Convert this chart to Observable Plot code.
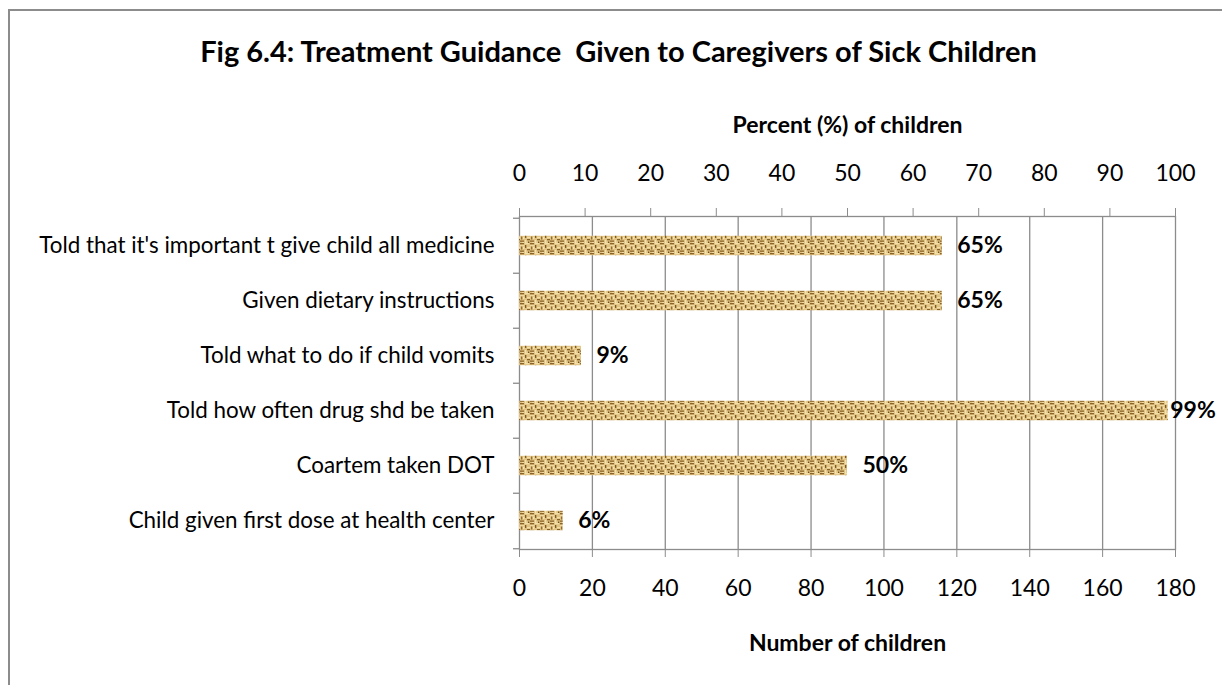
<!DOCTYPE html>
<html>
<head>
<meta charset="utf-8">
<script src="https://cdn.jsdelivr.net/npm/d3@7"></script>
<script src="https://cdn.jsdelivr.net/npm/@observablehq/plot@0.6"></script>
<style>
  html, body { margin: 0; padding: 0; background: #fff; }
  #chart { position: relative; width: 1222px; height: 685px; overflow: hidden; }
  #border { position: absolute; left: 8px; top: 9px; width: 1230px; height: 700px; border: 2px solid #8c8c8c; box-sizing: border-box; pointer-events: none; }
  svg { font-family: Lato, "Open Sans", sans-serif; }
</style>
</head>
<body>
<div id="chart"><div id="border"></div></div>
<script>
const title = "Fig 6.4: Treatment Guidance  Given to Caregivers of Sick Children";
const topAxisTitle = "Percent (%) of children";
const bottomAxisTitle = "Number of children";
const categories = [
  "Told that it's important t give child all medicine",
  "Given dietary instructions",
  "Told what to do if child vomits",
  "Told how often drug shd be taken",
  "Coartem taken DOT",
  "Child given first dose at health center"
];
const counts = [116, 116, 17, 178, 90, 12];
const percentLabels = ["65%", "65%", "9%", "99%", "50%", "6%"];
const countTicks = [0, 20, 40, 60, 80, 100, 120, 140, 160, 180];
const percentTicks = [0, 10, 20, 30, 40, 50, 60, 70, 80, 90, 100];
const countMax = 180;

const data = categories.map((c, i) => ({category: c, count: counts[i], label: percentLabels[i]}));

const W = 1222, H = 685;
const mL = 519, mR = 47, mT = 216, mB = 136;
const plotW = W - mL - mR, plotH = H - mT - mB;
const step = plotH / categories.length;
const barH = 20;
const inset = (step - barH) / 2;
const pxPerUnit = plotW / countMax;
const gray = "#8c8c8c";
const labelGap = 15, labelW = 48;
const fits = d => mL + d.count * pxPerUnit + labelGap + labelW <= W;

const plot = Plot.plot({
  width: W, height: H,
  marginLeft: mL, marginRight: mR, marginTop: mT, marginBottom: mB,
  style: {fontFamily: "Lato, 'Open Sans', sans-serif", color: "#000", background: "transparent"},
  x: {domain: [0, countMax]},
  y: {domain: categories, padding: 0},
  marks: [
    Plot.gridX(countTicks.filter(t => t > 0 && t < countMax), {stroke: gray, strokeOpacity: 1, strokeWidth: 1.3}),
    Plot.frame({stroke: gray, strokeWidth: 1.3}),
    Plot.ruleY(categories, {y: d => d, x1: 0, x2: 6 / pxPerUnit, dx: -6, dy: -step / 2, stroke: gray, strokeWidth: 1.3}),
    Plot.ruleY([categories[categories.length - 1]], {y: d => d, x1: 0, x2: 6 / pxPerUnit, dx: -6, dy: step / 2, stroke: gray, strokeWidth: 1.3}),
    Plot.barX(data, {y: "category", x: "count", fill: "url(#burlap)", insetTop: inset, insetBottom: inset}),
    Plot.text(data, {filter: fits, y: "category", x: "count", text: "label", textAnchor: "start", dx: labelGap, fontSize: 23, fontWeight: "bold", fill: "#000"}),
    Plot.text(data, {filter: d => !fits(d), y: "category", x: "count", text: "label", textAnchor: "start", dx: 2, fontSize: 23, fontWeight: "bold", fill: "#000"}),
    Plot.axisY({tickSize: 0, tickPadding: 25, fontSize: 22.4, label: null, fill: "#000"}),
    Plot.axisX({anchor: "bottom", ticks: countTicks, tickSize: 8, tickPadding: 22, fontSize: 23, label: null, stroke: gray, fill: "#000"}),
    Plot.axisX({anchor: "top", ticks: percentTicks.map(p => p * countMax / 100), tickFormat: (d, i) => String(percentTicks[i]), tickSize: 9, tickPadding: 27, fontSize: 23, label: null, stroke: gray, fill: "#000"}),
    Plot.text([topAxisTitle], {frameAnchor: "top", dy: -100, fontSize: 23, fontWeight: "bold", fill: "#000"}),
    Plot.text([bottomAxisTitle], {frameAnchor: "bottom", dy: 101, fontSize: 23, fontWeight: "bold", fill: "#000"}),
    Plot.text([title], {frameAnchor: "top", dy: -175, dx: 618 - (mL + plotW / 2), fontSize: 29, fontWeight: "bold", fill: "#000"})
  ]
});

// burlap texture pattern
const ns = "http://www.w3.org/2000/svg";
const defs = document.createElementNS(ns, "defs");
const pat = document.createElementNS(ns, "pattern");
pat.setAttribute("id", "burlap");
pat.setAttribute("patternUnits", "userSpaceOnUse");
pat.setAttribute("width", "10");
pat.setAttribute("height", "10");
pat.setAttribute("y", "3");
const rects = [
  [0, 0, 10, 10, "#e0c282"],
  [0, 0, 4, 1.3, "#8a6428"], [5, 0, 4, 1.3, "#f3dfaa"],
  [0, 2, 4, 1.3, "#f0d9a0"], [5, 2, 1.3, 3, "#7d5a22"],
  [1, 3.5, 1.3, 3, "#936c30"], [3, 4, 1.3, 2, "#f5e3b4"],
  [7, 4, 3, 1.3, "#f2dca6"], [7, 6, 3, 1.3, "#866026"],
  [0, 7.5, 4, 1.3, "#8c662b"], [5, 7, 1.3, 3, "#f4e1b0"],
  [2, 9, 2, 1, "#f0d8a0"], [8, 8.5, 1.3, 1.5, "#6f501d"]
];
for (const [x, y, w, h, f] of rects) {
  const r = document.createElementNS(ns, "rect");
  r.setAttribute("x", x); r.setAttribute("y", y);
  r.setAttribute("width", w); r.setAttribute("height", h);
  r.setAttribute("fill", f);
  pat.appendChild(r);
}
defs.appendChild(pat);
plot.insertBefore(defs, plot.firstChild);
plot.style.position = "absolute";
plot.style.left = "0";
plot.style.top = "0";
document.getElementById("chart").appendChild(plot);
</script>
</body>
</html>
